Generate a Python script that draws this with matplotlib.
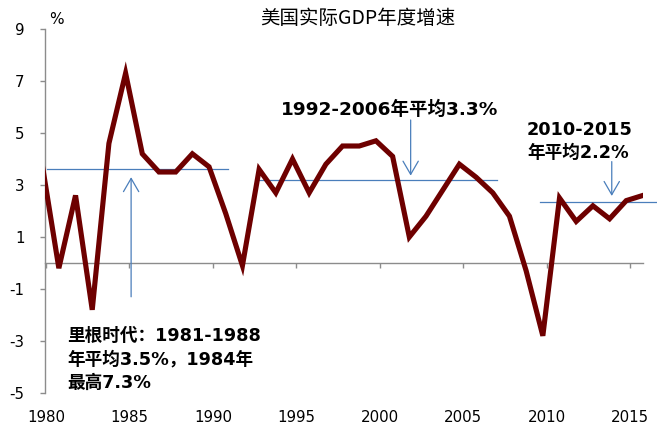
import matplotlib
matplotlib.use("Agg")
import matplotlib.pyplot as plt

plt.rcParams["axes.unicode_minus"] = False

# ---- data ----
years = list(range(1979, 2016))
growth = [3.8, -0.2, 2.6, -1.8, 4.6, 7.3, 4.2, 3.5, 3.5, 4.2, 3.7, 1.9, -0.1,
          3.6, 2.7, 4.0, 2.7, 3.8, 4.5, 4.5, 4.7, 4.1, 1.0, 1.8, 2.8, 3.8,
          3.3, 2.7, 1.8, -0.3, -2.8, 2.5, 1.6, 2.2, 1.7, 2.4, 2.6]
x_offset = 0.77  # points sit late within each year on the date axis
xticks = [1980, 1985, 1990, 1995, 2000, 2005, 2010, 2015]
yticks = [-5, -3, -1, 1, 3, 5, 7, 9]

avg_levels = [3.6, 3.2, 2.36]
avg_starts = [1980.06, 1992.57, 2009.6]
avg_ends = [1990.92, 2007.0, 2016.65]

arrow_x = [1985.1, 2001.85, 2013.9]
arrow_from = [-1.3, 5.5, 3.9]
arrow_to = [3.3, 3.36, 2.58]

title = "美国实际GDP年度增速"
label_92 = "1992-2006年平均3.3%"
label_10a = "2010-2015"
label_10b = "年平均2.2%"
label_reagan = ["里根时代：1981-1988", "年平均3.5%，1984年", "最高7.3%"]

# ---- style ----
red = "#6E0000"
blue = "#4A7EBB"
gray = "#8C8C8C"
fam = ["DejaVu Sans", "Noto Sans CJK SC"]

fig = plt.figure(figsize=(6.57, 4.26), dpi=100)
ax = fig.add_axes([45 / 657, 1 - 393 / 426, (643.3 - 45) / 657, (393 - 29) / 426])

xs = [y + x_offset for y in years]
ax.plot(xs, growth, color=red, lw=3.7, solid_joinstyle="miter", zorder=3)

for lvl, a, b in zip(avg_levels, avg_starts, avg_ends):
    ax.plot([a, b], [lvl, lvl], color=blue, lw=0.9, zorder=2, clip_on=False)

for x, y0, y1 in zip(arrow_x, arrow_from, arrow_to):
    ax.annotate("", xy=(x, y1), xytext=(x, y0),
                arrowprops=dict(arrowstyle="->,head_length=0.95,head_width=0.55",
                                color=blue, lw=0.9, shrinkA=0, shrinkB=0))

ax.set_xlim(1979.94, 2015.79)
ax.set_ylim(-5, 9)
ax.set_yticks(yticks)
ax.set_xticks(xticks)

for s in ["top", "right"]:
    ax.spines[s].set_visible(False)
ax.spines["left"].set_color(gray)
ax.spines["bottom"].set_color(gray)
ax.spines["left"].set_linewidth(1.0)
ax.spines["bottom"].set_linewidth(1.0)
ax.spines["bottom"].set_position(("data", 0))

ax.tick_params(axis="y", direction="out", length=3.8, color=gray, width=1.0,
               labelsize=10.8, pad=11)
ax.tick_params(axis="x", direction="out", length=3.8, color=gray, width=1.0,
               labelbottom=False)
for t in ax.get_yticklabels():
    t.set_fontfamily("DejaVu Sans")

sec = ax.secondary_xaxis("bottom")
sec.set_xticks(xticks)
sec.tick_params(length=0, pad=12.5, labelsize=10.8)
sec.spines["bottom"].set_visible(False)

# titles / labels
fig.text(358 / 657, 1 - 19 / 426, title, ha="center", va="center",
         fontsize=14, family=["Noto Sans CJK SC", "DejaVu Sans"])
fig.text(56 / 657, 1 - 19 / 426, "%", ha="center", va="center",
         fontsize=11, family="DejaVu Sans")

ax.text(1994.08, 5.88, label_92, ha="left", va="center", fontsize=13.3,
        fontweight="bold", family=fam)
ax.text(2008.82, 5.1, label_10a, ha="left", va="center", fontsize=12.7,
        fontweight="bold", family=fam)
ax.text(2008.82, 4.25, label_10b, ha="left", va="center", fontsize=12.7,
        fontweight="bold", family=fam)
for line, yy in zip(label_reagan, [-2.81, -3.71, -4.6]):
    ax.text(1981.26, yy, line, ha="left", va="center", fontsize=12.7,
            fontweight="bold", family=fam)

fig.savefig("out.png", dpi=100)
